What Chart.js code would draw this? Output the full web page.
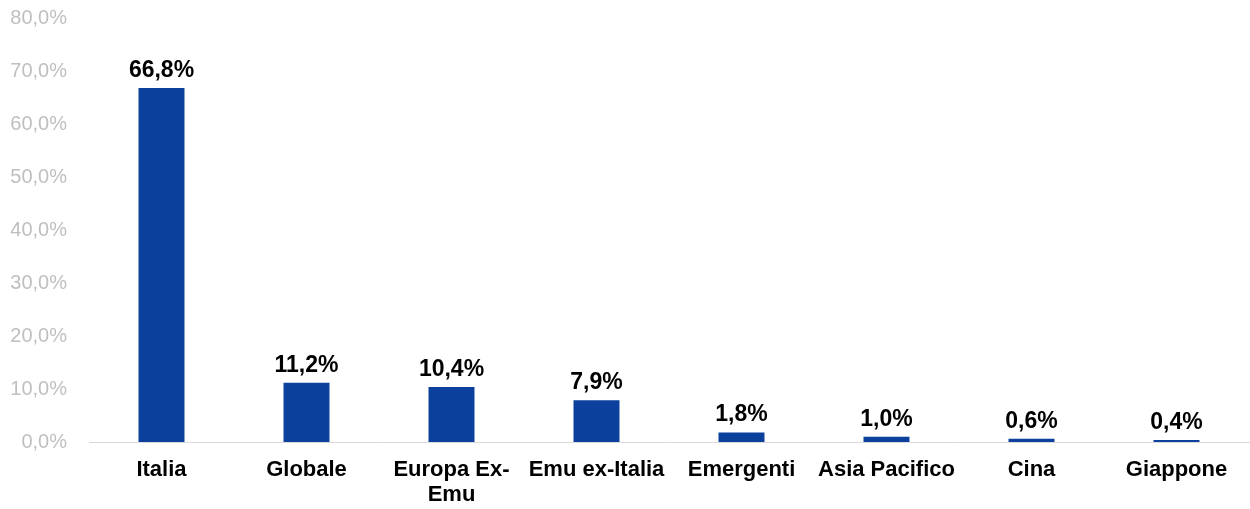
<!DOCTYPE html>
<html>
<head>
<meta charset="utf-8">
<script src="https://cdn.jsdelivr.net/npm/chart.js@4/dist/chart.umd.min.js"></script>
<style>
    html, body { margin: 0; padding: 0; background: #ffffff; }
    #wrap { width: 1250px; height: 509px; position: relative; }
</style>
</head>
<body>
<div id="wrap"><canvas id="chart"></canvas></div>
<script>
// Dati del grafico
const categorie = ['Italia', 'Globale', ['Europa Ex-', 'Emu'], 'Emu ex-Italia', 'Emergenti', 'Asia Pacifico', 'Cina', 'Giappone'];
const pesi = [66.8, 11.2, 10.4, 7.9, 1.8, 1.0, 0.6, 0.4];
const asseMin = 0;
const asseMax = 80;
const asseStep = 10;

const FONT = "Arial, 'Liberation Sans', sans-serif";

function formatPerc(v) {
    return v.toFixed(1).replace('.', ',') + '%';
}

// Etichette sopra le barre
const etichettePlugin = {
    id: 'etichette',
    afterDatasetsDraw(chart) {
        const ctx = chart.ctx;
        const meta = chart.getDatasetMeta(0);
        ctx.save();
        ctx.font = 'bold 23px ' + FONT;
        ctx.fillStyle = '#000000';
        ctx.textAlign = 'center';
        ctx.textBaseline = 'alphabetic';
        meta.data.forEach((bar, i) => {
            ctx.fillText(formatPerc(pesi[i]), bar.x, bar.y - 11);
        });
        ctx.restore();
    }
};

const ctx = document.getElementById('chart').getContext('2d');
new Chart(ctx, {
    type: 'bar',
    data: {
        labels: categorie,
        datasets: [{
            data: pesi,
            backgroundColor: '#0b409c',
            barPercentage: 0.317,
            categoryPercentage: 1
        }]
    },
    options: {
        responsive: true,
        maintainAspectRatio: false,
        animation: false,
        layout: { padding: { top: 18, right: 1, left: 0, bottom: 0 } },
        plugins: {
            legend: { display: false },
            tooltip: { enabled: false }
        },
        scales: {
            x: {
                grid: { display: false, drawTicks: false },
                border: { display: true, color: '#d9d9d9', width: 1 },
                ticks: {
                    color: '#000000',
                    font: { family: FONT, size: 22, weight: 'bold', lineHeight: 1.14 },
                    padding: 15,
                    maxRotation: 0,
                    autoSkip: false
                },
                afterFit(scale) { scale.height = 67; }
            },
            y: {
                min: asseMin,
                max: asseMax,
                grid: { display: false, drawTicks: false },
                border: { display: false },
                ticks: {
                    stepSize: asseStep,
                    color: '#bfbfbf',
                    font: { family: FONT, size: 20 },
                    padding: 22,
                    callback: v => formatPerc(v)
                },
                afterFit(scale) {
                    scale.width = 89;
                    scale.paddingTop = 0;
                    scale.paddingBottom = 0;
                }
            }
        }
    },
    plugins: [etichettePlugin]
});
</script>
</body>
</html>
